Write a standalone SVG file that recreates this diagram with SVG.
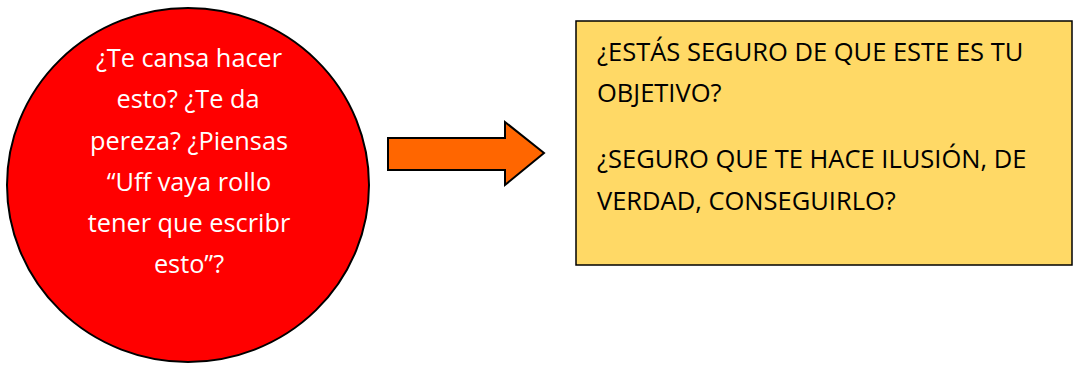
<svg xmlns="http://www.w3.org/2000/svg" width="1073" height="365" viewBox="0 0 1073 365">
<style>
.ct{font-family:"Open Sans","Liberation Sans",sans-serif;font-size:25.3px;fill:#fff;text-anchor:middle}
.bt{font-family:"Open Sans","Liberation Sans",sans-serif;font-size:25.5px;fill:#000}
</style>
<rect width="1073" height="365" fill="#fff"/>
<g id="circle">
<ellipse cx="188" cy="185" rx="181" ry="177" fill="#ff0000" stroke="#000" stroke-width="2"/>
<text class="ct" x="189" y="67">¿Te cansa hacer</text>
<text class="ct" x="188" y="108">esto? ¿Te da</text>
<text class="ct" x="189" y="150">pereza? ¿Piensas</text>
<text class="ct" x="189" y="191">“Uff vaya rollo</text>
<text class="ct" x="189" y="232">tener que escribr</text>
<text class="ct" x="189" y="273">esto”?</text>
</g>
<g id="connectors">
<polygon points="388,138 505,138 505,122 544,153 505,185 505,170 388,170" fill="#ff6600" stroke="#000" stroke-width="2" stroke-linejoin="miter"/>
</g>
<g id="box">
<rect x="576" y="21" width="496" height="244" fill="#ffd966" stroke="#000" stroke-width="1.5"/>
<text class="bt" x="597" y="61">¿ESTÁS SEGURO DE QUE ESTE ES TU</text>
<text class="bt" x="597" y="102">OBJETIVO?</text>
<text class="bt" x="597" y="168">¿SEGURO QUE TE HACE ILUSIÓN, DE</text>
<text class="bt" x="597" y="210">VERDAD, CONSEGUIRLO?</text>
</g>
</svg>
